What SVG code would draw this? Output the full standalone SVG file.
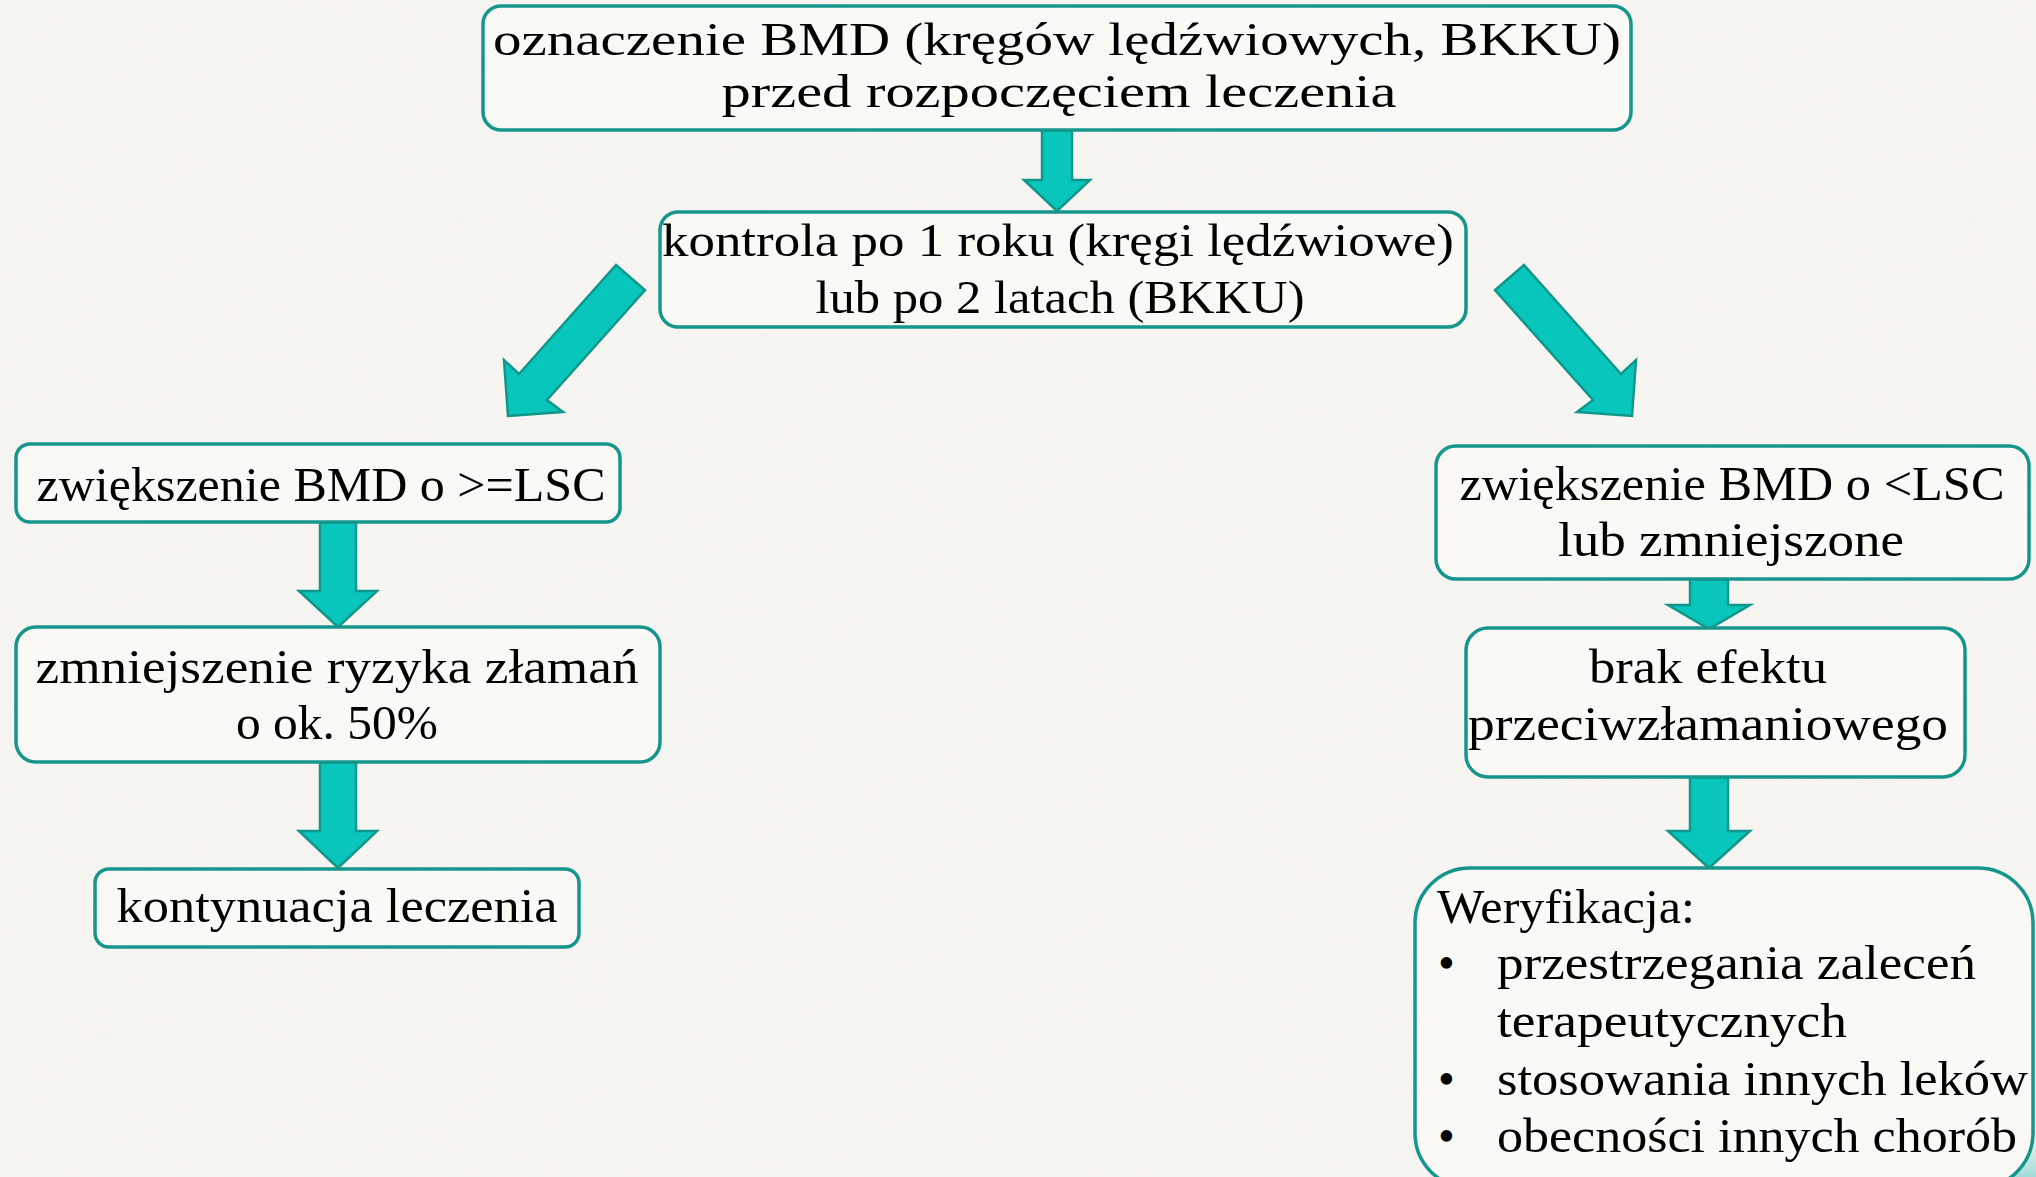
<svg xmlns="http://www.w3.org/2000/svg" width="2036" height="1177" viewBox="0 0 2036 1177">
  <defs>
    <style>
      .box { fill: #faf9f6; stroke: #14968c; stroke-width: 3.5; }
      .arrow { fill: #08c6bb; stroke: #10968b; stroke-width: 2.5; stroke-linejoin: miter; }
      .t { font-family: "Liberation Serif", "DejaVu Serif", serif; font-size: 48px; fill: #000; }
      .tt { font-size: 47px; }
      .c { text-anchor: middle; }
    </style>
    <linearGradient id="wash" x1="0" y1="0" x2="0" y2="1">
      <stop offset="0" stop-color="#7fd3cf" stop-opacity="0"/>
      <stop offset="1" stop-color="#5cc6c4" stop-opacity="0.55"/>
    </linearGradient>
    <filter id="paper" x="0" y="0" width="100%" height="100%">
      <feTurbulence type="fractalNoise" baseFrequency="0.012 0.05" numOctaves="3" seed="4"/>
      <feColorMatrix type="matrix" values="0 0 0 0 0.85  0 0 0 0 0.83  0 0 0 0 0.80  0 0 0 -1.2 0.75"/>
    </filter>
  </defs>

  <rect x="0" y="0" width="2036" height="1177" fill="#f7f5f1"/>
  <rect x="0" y="0" width="2036" height="1177" filter="url(#paper)" opacity="0.25"/>
  <rect x="1440" y="1130" width="596" height="47" fill="url(#wash)"/>

  <g id="connectors">
    <polygon class="arrow" points="1042,130 1072,130 1072,180 1090,180 1057,211 1024,180 1042,180"/>
    <polygon class="arrow" points="616,265 645,290 547,400 563,412 508,416 504,360 519,374"/>
    <polygon class="arrow" points="1524,265 1495,290 1593,400 1577,412 1632,416 1636,360 1621,374"/>
    <polygon class="arrow" points="320,522 356,522 356,591 377,591 338,627 299,591 320,591"/>
    <polygon class="arrow" points="320,762 356,762 356,831 377,831 338,868 299,831 320,831"/>
    <polygon class="arrow" points="1690,579 1728,579 1728,605 1750,605 1709,629 1668,605 1690,605"/>
    <polygon class="arrow" points="1690,777 1728,777 1728,831 1750,831 1709,868 1668,831 1690,831"/>
  </g>

  <g id="node-bmd-start">
    <rect class="box" x="483" y="6" width="1148" height="124" rx="18"/>
    <text class="t tt c" x="1057" y="55" textLength="1128" lengthAdjust="spacingAndGlyphs">oznaczenie BMD (kręgów lędźwiowych, BKKU)</text>
    <text class="t tt c" x="1059" y="107" textLength="675" lengthAdjust="spacingAndGlyphs">przed rozpoczęciem leczenia</text>
  </g>

  <g id="node-kontrola">
    <rect class="box" x="660" y="212" width="806" height="115" rx="18"/>
    <text class="t tt c" x="1058" y="256" textLength="792" lengthAdjust="spacingAndGlyphs">kontrola po 1 roku (kręgi lędźwiowe)</text>
    <text class="t tt c" x="1060" y="313" textLength="489" lengthAdjust="spacingAndGlyphs">lub po 2 latach (BKKU)</text>
  </g>

  <g id="node-wzrost-ge-lsc">
    <rect class="box" x="16" y="444" width="604" height="78" rx="14"/>
    <text class="t c" x="321" y="501" textLength="569" lengthAdjust="spacingAndGlyphs">zwiększenie BMD o &gt;=LSC</text>
  </g>

  <g id="node-ryzyko">
    <rect class="box" x="16" y="627" width="644" height="135" rx="20"/>
    <text class="t c" x="337" y="683" textLength="603" lengthAdjust="spacingAndGlyphs">zmniejszenie ryzyka złamań</text>
    <text class="t c" x="337" y="739" textLength="202" lengthAdjust="spacingAndGlyphs">o ok. 50%</text>
  </g>

  <g id="node-kontynuacja">
    <rect class="box" x="95" y="869" width="484" height="78" rx="14"/>
    <text class="t c" x="337" y="922" textLength="441" lengthAdjust="spacingAndGlyphs">kontynuacja leczenia</text>
  </g>

  <g id="node-wzrost-lt-lsc">
    <rect class="box" x="1436" y="446" width="593" height="133" rx="20"/>
    <text class="t c" x="1732" y="500" textLength="545" lengthAdjust="spacingAndGlyphs">zwiększenie BMD o &lt;LSC</text>
    <text class="t c" x="1731" y="556" textLength="346" lengthAdjust="spacingAndGlyphs">lub zmniejszone</text>
  </g>

  <g id="node-brak-efektu">
    <rect class="box" x="1466" y="628" width="499" height="149" rx="22"/>
    <text class="t c" x="1708" y="683" textLength="238" lengthAdjust="spacingAndGlyphs">brak efektu</text>
    <text class="t c" x="1708" y="740" textLength="480" lengthAdjust="spacingAndGlyphs">przeciwzłamaniowego</text>
  </g>

  <g id="node-weryfikacja">
    <rect class="box" x="1415" y="868" width="618" height="320" rx="55"/>
    <text class="t" x="1437" y="923" textLength="258" lengthAdjust="spacingAndGlyphs">Weryfikacja:</text>
    <text class="t" x="1438" y="979">•</text>
    <text class="t" x="1497" y="979" textLength="479" lengthAdjust="spacingAndGlyphs">przestrzegania zaleceń</text>
    <text class="t" x="1497" y="1037" textLength="350" lengthAdjust="spacingAndGlyphs">terapeutycznych</text>
    <text class="t" x="1438" y="1095">•</text>
    <text class="t" x="1497" y="1095" textLength="531" lengthAdjust="spacingAndGlyphs">stosowania innych leków</text>
    <text class="t" x="1438" y="1152">•</text>
    <text class="t" x="1497" y="1152" textLength="520" lengthAdjust="spacingAndGlyphs">obecności innych chorób</text>
  </g>
</svg>
